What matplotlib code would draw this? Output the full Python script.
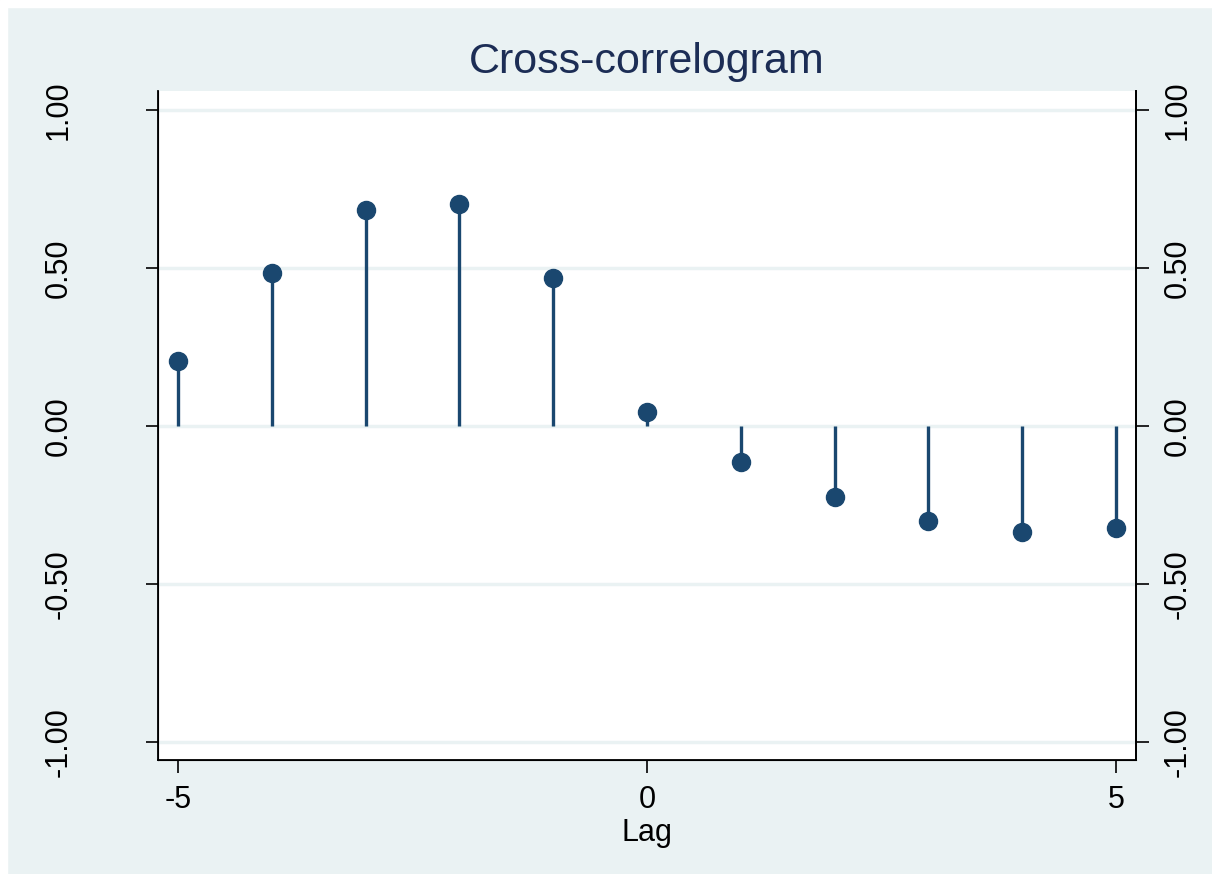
import matplotlib
matplotlib.use('Agg')
import matplotlib.pyplot as plt
from matplotlib.patches import Rectangle

lags = [-5, -4, -3, -2, -1, 0, 1, 2, 3, 4, 5]
xcorr = [0.206, 0.484, 0.684, 0.703, 0.468, 0.044, -0.114, -0.225, -0.301, -0.335, -0.323]
yticks = [-1.0, -0.5, 0.0, 0.5, 1.0]
ytick_labels = ["-1.00", "-0.50", "0.00", "0.50", "1.00"]
xticks = [-5, 0, 5]

navy = "#1A476F"
bg = "#EAF2F3"

plt.rcParams['font.family'] = ['Liberation Sans', 'DejaVu Sans']

fig = plt.figure(figsize=(12.12, 8.74), dpi=100)
fig.patch.set_facecolor(bg)
# thin white strip at top and left of the screenshot
fig.patches.append(Rectangle((0, 0), 7 / 1212, 1, transform=fig.transFigure,
                             color="white", zorder=-1))
fig.patches.append(Rectangle((0, 1 - 7 / 874), 1, 7 / 874, transform=fig.transFigure,
                             color="white", zorder=-1))

ax = fig.add_axes([158 / 1212, 1 - 760 / 874, (1136 - 158) / 1212, (760 - 91) / 874])
ax.set_facecolor("white")

for y in yticks:
    ax.axhline(y, color=bg, lw=2.5, zorder=0)

ax.vlines(lags, 0, xcorr, color=navy, lw=2.4, zorder=2)
ax.plot(lags, xcorr, "o", color=navy, ms=13, zorder=3)

ax.set_xlim(-5.213, 5.213)
ax.set_ylim(-1.057, 1.060)

ax.spines['top'].set_visible(False)
for s in ['left', 'right', 'bottom']:
    ax.spines[s].set_linewidth(1.3)
    ax.spines[s].set_color("black")

ax.set_xticks(xticks)
ax.set_xticklabels([str(v) for v in xticks], fontsize=22)
ax.tick_params(axis='x', direction='out', length=9, width=1.2, pad=9)

ax.set_yticks(yticks)
ax.set_yticklabels(ytick_labels, fontsize=22, rotation=90, va='center')
ax.tick_params(axis='y', direction='out', length=9, width=1.2, pad=52,
               left=True, right=False)

ax2 = ax.twinx()
ax2.set_ylim(ax.get_ylim())
ax2.set_yticks(yticks)
ax2.set_yticklabels(ytick_labels, fontsize=22, rotation=90, va='center')
ax2.tick_params(axis='y', direction='out', length=9, width=1.2, pad=10)
ax2.spines['top'].set_visible(False)
ax2.spines['right'].set_linewidth(1.3)

ax.set_xlabel("Lag", fontsize=22, labelpad=2)
fig.text(647 / 1212, 1 - 62 / 874, "Cross-correlogram", fontsize=31,
         color="#1C2D55", ha='center', va='center')

fig.savefig("out.png", dpi=100, facecolor=fig.get_facecolor())
